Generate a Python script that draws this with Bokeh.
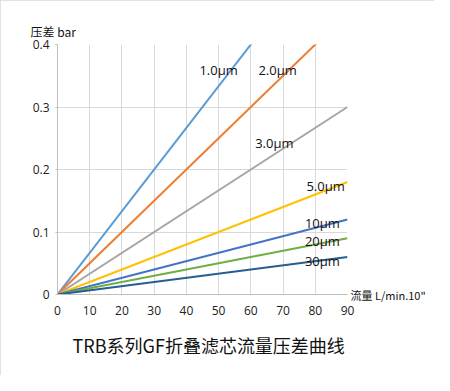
from bokeh.plotting import figure
from bokeh.models import Range1d, FixedTicker, Label, ColumnDataSource, Title, LinearAxis
from bokeh.embed import file_html
from bokeh.resources import INLINE

# ---- data ----
flow = [0, 90]
series_names = ["1.0μm", "2.0μm", "3.0μm", "5.0μm", "10μm", "20μm", "30μm"]
dp_at_90 = [0.60, 0.45, 0.30, 0.18, 0.12, 0.09, 0.06]
colors = ["#5B9BD5", "#ED7D31", "#A5A5A5", "#FFC000", "#4472C4", "#70AD47", "#255E91"]
x_ticks = [0, 10, 20, 30, 40, 50, 60, 70, 80, 90]
y_ticks = [0, 0.1, 0.2, 0.3, 0.4]
y_tick_labels = ["0", "0.1", "0.2", "0.3", "0.4"]
title_text = "TRB系列GF折叠滤芯流量压差曲线"
y_title = "压差 bar"
x_title = '流量 L/min.10"'

label_x = [50.0, 68.3, 67.3, 83.2, 82.2, 82.2, 82.2]
label_y = [0.36, 0.36, 0.243, 0.173, 0.115, 0.085, 0.053]

CJK = "Noto Sans CJK SC"
LAT = "Open Sans"

p = figure(width=434, height=375, output_backend="svg", toolbar_location=None,
           x_range=Range1d(0, 90), y_range=Range1d(0, 0.4),
           min_border_left=57, min_border_right=87, min_border_top=44, min_border_bottom=81)
p.styles = {"outline": "1px solid #d9d9d9", "outline-offset": "-1px"}
p.outline_line_color = None
p.background_fill_color = "white"
p.border_fill_color = "white"

for name, v, c in zip(series_names, dp_at_90, colors):
    src = ColumnDataSource(dict(x=flow, y=[0, v]))
    p.line("x", "y", source=src, line_color=c, line_width=2)

p.xaxis.ticker = FixedTicker(ticks=x_ticks)
p.yaxis.ticker = FixedTicker(ticks=y_ticks)
p.yaxis.major_label_overrides = {t: l for t, l in zip(y_ticks, y_tick_labels)}
p.xgrid.ticker = FixedTicker(ticks=x_ticks)
p.ygrid.ticker = FixedTicker(ticks=y_ticks)
p.xgrid.grid_line_color = "#D9D9D9"
p.ygrid.grid_line_color = "#D9D9D9"
p.xaxis.minor_tick_line_color = None
p.yaxis.minor_tick_line_color = None
p.xaxis.major_tick_line_color = None
p.yaxis.major_tick_out = 2
p.yaxis.major_tick_in = 0
p.yaxis.major_tick_line_color = "#BFBFBF"
p.xaxis.axis_line_color = "#BFBFBF"
p.yaxis.axis_line_color = "#BFBFBF"
for ax in (p.xaxis, p.yaxis):
    ax.major_label_text_font = LAT
    ax.major_label_text_font_size = "12px"
    ax.major_label_text_color = "#222222"
p.xaxis.major_label_standoff = 5
p.yaxis.major_label_standoff = 6

for name, lx, ly in zip(series_names, label_x, label_y):
    p.add_layout(Label(x=lx, y=ly, text=name, text_align="center", text_baseline="middle",
                       text_font=LAT, text_font_size="13px", text_color="#111111"))

# x-axis title at the right end of the x axis (via a right-side axis with a single tick at 0)
xt_axis = LinearAxis(ticker=FixedTicker(ticks=[0]), major_label_overrides={0: x_title},
                     axis_line_color=None, major_tick_line_color=None, minor_tick_line_color=None,
                     major_tick_out=0, major_tick_in=0,
                     major_label_standoff=3, major_label_text_font=CJK,
                     major_label_text_font_size="11px", major_label_text_color="#111111")
p.add_layout(xt_axis, "right")

# y-axis title above the plot, left
p.add_layout(Title(text=y_title, align="left", offset=-27, standoff=10,
                   text_font=CJK, text_font_size="12px", text_font_style="normal",
                   text_color="#111111"), "above")

# main title below
p.add_layout(Title(text=title_text, align="left", offset=15, standoff=24,
                   text_font=CJK, text_font_size="18px", text_font_style="normal",
                   text_color="#111111"), "below")

open("out.html", "w").write(file_html(p, INLINE))
